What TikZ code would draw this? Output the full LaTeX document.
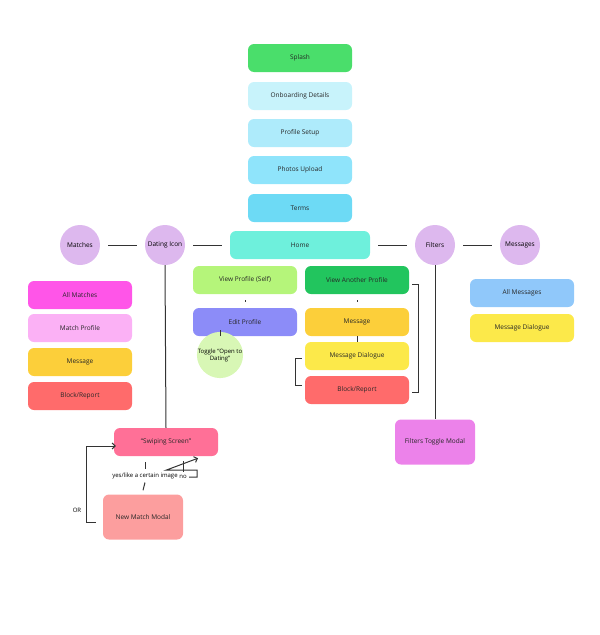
\documentclass[tikz,border=0pt]{standalone}
\usepackage{fontspec}
\setmainfont{Open Sans}
\usetikzlibrary{positioning,arrows.meta}
\definecolor{cSplash}{HTML}{4ADE6B}
\definecolor{cOnb}{HTML}{C8F3FB}
\definecolor{cSetup}{HTML}{AEEBFB}
\definecolor{cPhotos}{HTML}{8FE4FB}
\definecolor{cTerms}{HTML}{6DDAF5}
\definecolor{cHome}{HTML}{6EF0DC}
\definecolor{cCirc}{HTML}{DDB8EE}
\definecolor{cAllM}{HTML}{FF55E8}
\definecolor{cMProf}{HTML}{FBB1F5}
\definecolor{cMsg}{HTML}{FCCF3A}
\definecolor{cDial}{HTML}{FCE94A}
\definecolor{cBlock}{HTML}{FF6B6B}
\definecolor{cSelf}{HTML}{B5F57A}
\definecolor{cEdit}{HTML}{8C8CF8}
\definecolor{cToggle}{HTML}{D8F7B5}
\definecolor{cAnother}{HTML}{22C55E}
\definecolor{cAllMsg}{HTML}{90C8FA}
\definecolor{cFilt}{HTML}{EC82EA}
\definecolor{cSwipe}{HTML}{FF7097}
\definecolor{cNew}{HTML}{FC9E9E}
\tikzset{
  screen/.style={rectangle, rounded corners=6pt, minimum width=104pt, minimum height=28pt, font=\fontsize{6.5}{8}\selectfont, text=black!85},
  bigscreen/.style={screen, minimum width=80pt, minimum height=45pt},
  tab/.style={circle, fill=cCirc, minimum size=40pt, inner sep=0pt, font=\fontsize{6.5}{8}\selectfont},
  link/.style={line width=1pt, black!80},
  note/.style={font=\fontsize{6}{7}\selectfont}
}
\begin{document}
\begin{tikzpicture}[x=1pt, y=-1pt]
    \useasboundingbox (0,0) rectangle (600,635);
    % Onboarding flow
    \node[screen, fill=cSplash] (splash) at (300,58) {Splash};
    \node[screen, fill=cOnb] (onb) at (300,96) {Onboarding Details};
    \node[screen, fill=cSetup] (setup) at (300,133) {Profile Setup};
    \node[screen, fill=cPhotos] (photos) at (300,170) {Photos Upload};
    \node[screen, fill=cTerms] (terms) at (300,208) {Terms};
    \node[screen, fill=cHome, minimum width=140pt] (home) at (300,245) {Home};

    % Tabs
    \node[tab] (matches) at (80,245) {Matches};
    \node[tab] (dating) at (165,245) {Dating Icon};
    \node[tab] (filters) at (435,245) {Filters};
    \node[tab] (messages) at (520,245) {Messages};
    \draw[link] ([xshift=8pt]matches.east) -- ([xshift=-8pt]dating.west);
    \draw[link] ([xshift=8pt]dating.east) -- ([xshift=-8pt]home.west);
    \draw[link] ([xshift=8pt]home.east) -- ([xshift=-8pt]filters.west);
    \draw[link] ([xshift=8pt]filters.east) -- ([xshift=-8pt]messages.west);

    % Matches column
    \node[screen, fill=cAllM] (allm) at (80,295) {All Matches};
    \node[screen, fill=cMProf] (mprof) at (80,328) {Match Profile};
    \node[screen, fill=cMsg] (mmsg) at (80,362) {Message};
    \node[screen, fill=cBlock] (mblock) at (80,396) {Block/Report};

    % Home branches
    \node[screen, fill=cSelf] (self) at (245,280) {View Profile (Self)};
    \node[screen, fill=cEdit] (edit) at (245,322) {Edit Profile};
    \node[circle, fill=cToggle, minimum size=28pt, inner sep=0pt, align=center, note] (toggle) at (220,355) {Toggle ``Open to\\Dating''};
    \draw[link] ([yshift=-6pt]self.south) -- ([yshift=6pt]edit.north);
    \draw[link] ([xshift=-25pt]edit.south) -- ([xshift=-25pt,yshift=6pt]edit.south);

    \node[screen, fill=cAnother] (another) at (357,280) {View Another Profile};
    \node[screen, fill=cMsg] (amsg) at (357,322) {Message};
    \node[screen, fill=cDial] (adial) at (357,356) {Message Dialogue};
    \node[screen, fill=cBlock] (ablock) at (357,390) {Block/Report};
    \draw[link] ([yshift=-6pt]another.south) -- ([yshift=6pt]amsg.north);
    \draw[link] (amsg.south) -- (adial.north);
    \draw[link] ([xshift=3pt,yshift=-4pt]another.east) -- ++(6,0) |- ([xshift=3pt,yshift=-2pt]ablock.east);
    \draw[link] ([xshift=-3pt,yshift=-2pt]adial.west) -- ++(-6,0) |- ([xshift=-3pt,yshift=5pt]ablock.west);

    % Messages column
    \node[screen, fill=cAllMsg] (allmsg) at (522,293) {All Messages};
    \node[screen, fill=cDial] (mdial) at (522,328) {Message Dialogue};

    % Filters
    \node[bigscreen, fill=cFilt] (ftoggle) at (435,442) {Filters Toggle Modal};
    \draw[link] (filters.south) -- (ftoggle.north);

    % Swiping
    \node[screen, fill=cSwipe] (swipe) at (166,442) {``Swiping Screen''};
    \node[bigscreen, fill=cNew] (newm) at (143,517) {New Match Modal};
    \draw[link] (dating.south) -- (swipe.north);
    \node[note] (yes) at (145,476) {yes/like a certain image};
    \draw[link] ([yshift=-6pt]swipe.south -| yes) -- (yes.north);
    \draw[link] (yes.south) -- ([yshift=4pt]newm.north);
    \node[note] (no) at (183,477) {no};
    \draw[link] ([yshift=-5pt]swipe.south -| no) -- (no.north);
    \draw[link, -{Straight Barb[length=3pt]}] ([xshift=-1pt]no.east) -- ++(8,0) |- ([yshift=-14pt]swipe.south) -- ([yshift=-2pt]swipe.south -| 198,0);
    \coordinate (orturn) at (86,522);
    \draw[link, -{Straight Barb[length=3pt]}] ([xshift=-7pt]newm.west |- orturn) -- (orturn) |- ([xshift=2pt,yshift=-4pt]swipe.west);
    \node[note] (or) at (77,510) {OR};
\end{tikzpicture}
\end{document}
